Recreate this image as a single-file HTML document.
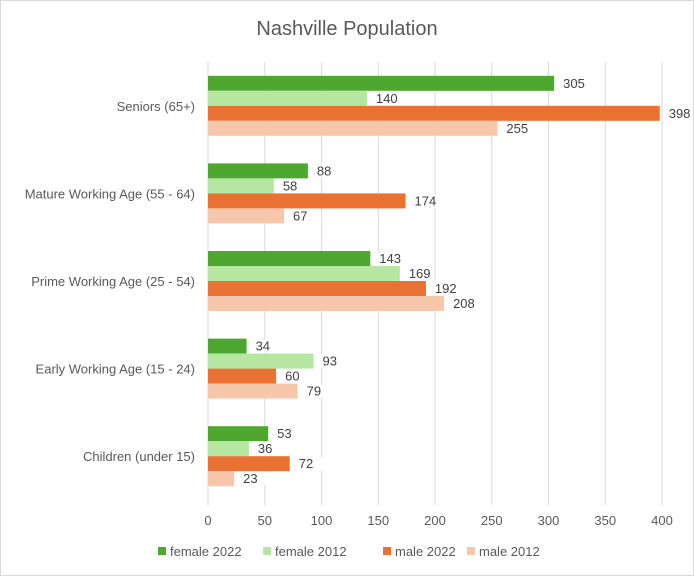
<!DOCTYPE html>
<html><head><meta charset="utf-8"><style>
body{margin:0;background:#fff;font-family:"Liberation Sans",sans-serif}
#wrap{position:relative;width:694px;height:576px;box-sizing:border-box;border:1px solid #d9d9d9;background:#fff}
</style></head><body>
<div id="wrap">
<svg id="chart" width="694" height="576" style="position:absolute;left:-1px;top:-1px"></svg>
</div>
<script>
const categories=["Seniors (65+)","Mature Working Age (55 - 64)","Prime Working Age (25 - 54)","Early Working Age (15 - 24)","Children (under 15)"];
const seriesNames=["female 2022","female 2012","male 2022","male 2012"];
const female2022=[305,88,143,34,53];
const female2012=[140,58,169,93,36];
const male2022=[398,174,192,60,72];
const male2012=[255,67,208,79,23];
const ticks=[0,50,100,150,200,250,300,350,400];
const colors=["#4ea72e","#b5e6a2","#e97132","#f7c7ac"];
const series=[female2022,female2012,male2022,male2012];
const NS="http://www.w3.org/2000/svg";
const svg=document.getElementById('chart');
const x0=208,x1=662,plotTop=62,plotBottom=500,xmax=400;
const xs=v=>x0+(v/xmax)*(x1-x0);
const band=(plotBottom-plotTop)/categories.length;
const barH=15;
function mk(t,a,txt){const e=document.createElementNS(NS,t);for(const k in a)e.setAttribute(k,a[k]);if(txt!==undefined)e.textContent=txt;svg.appendChild(e);return e;}
let titleEl=mk('text',{x:347,y:35,'text-anchor':'middle','font-size':20,fill:'#595959'},'Nashville Population');


ticks.forEach(t=>{
 let g=mk('line',{x1:xs(t),x2:xs(t),y1:plotTop,y2:plotBottom+5,stroke:'#d9d9d9','stroke-width':1});
 
 
 let l=mk('text',{x:xs(t),y:525,'text-anchor':'middle','font-size':13,fill:'#595959'},t);
 
 
});
categories.forEach((c,i)=>{
 const gTop=plotTop+i*band+(band-4*barH)/2;
 let l=mk('text',{x:195,y:gTop+2*barH+5,'text-anchor':'end','font-size':13,fill:'#595959'},c);
 
 
 series.forEach((s,j)=>{
  const y=gTop+j*barH;
  let r=mk('rect',{x:x0,y:y,width:xs(s[i])-x0,height:barH,fill:colors[j]});
  
  
  const tx=xs(s[i])+7;
  let bg=mk('rect',{x:tx-2,y:y+1,width:28,height:barH-2,fill:'#fff'});
  
  
  let v=mk('text',{x:tx+2,y:y+12,'font-size':13,fill:'#404040'},s[i]);
  
  
 });
});
const lx=[158,263,383,467];
seriesNames.forEach((n,j)=>{
 let r=mk('rect',{x:lx[j],y:547,width:8,height:8,fill:colors[j]});
 
 
 let t=mk('text',{x:lx[j]+12,y:556,'font-size':13,fill:'#595959'},n);
 
 
});
</script>
</body></html>
